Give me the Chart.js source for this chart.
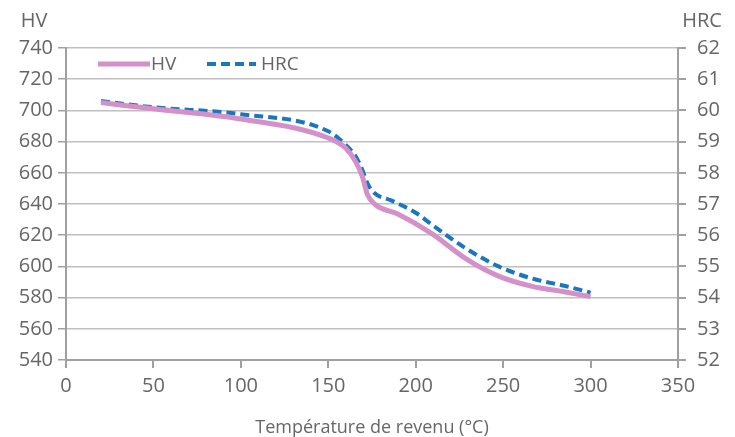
<!DOCTYPE html>
<html>
<head>
<meta charset="utf-8">
<script src="https://cdn.jsdelivr.net/npm/chart.js@4"></script>
<style>
  html, body { margin: 0; padding: 0; background: #fff; }
  #wrap { width: 735px; height: 437px; position: relative; }
</style>
</head>
<body>
<div id="wrap"><canvas id="c" width="735" height="437"></canvas></div>
<script>
// ---- data ----
const hvTemps   = [20, 50, 100, 150, 160, 165.7, 169.5, 172.4, 177, 190, 209, 228.6, 247.4, 266, 285.6, 300];
const hvValues  = [705, 701, 694.5, 682.3, 675.7, 667, 657.5, 646, 639.5, 633.5, 621.2, 605, 593.8, 587.4, 583.6, 580.6];
const hrcTemps  = [20, 50, 100, 150, 160, 165.7, 169.5, 172.4, 176.2, 186.6, 200, 209, 228.6, 247.4, 266, 285.6, 300];
const hrcValues = [60.3, 60.1, 59.88, 59.33, 58.89, 58.52, 58.09, 57.66, 57.36, 57.1, 56.72, 56.35, 55.58, 55.0, 54.62, 54.37, 54.16];
const seriesNames = ['HV', 'HRC'];
const leftAxisTitle = 'HV';
const rightAxisTitle = 'HRC';
const xAxisTitle = 'Température de revenu (°C)';

const FONT = "'Open Sans', 'Liberation Sans', sans-serif";
const TXT = '#666666';

const hvData = hvTemps.map((t, i) => ({ x: t, y: hvValues[i] }));
const hrcData = hrcTemps.map((t, i) => ({ x: t, y: hrcValues[i] }));

const extras = {
  id: 'extras',
  afterDraw(chart) {
    const ctx = chart.ctx;
    ctx.save();
    ctx.fillStyle = TXT;
    ctx.font = '20px ' + FONT;
    ctx.textBaseline = 'middle';
    ctx.textAlign = 'center';
    ctx.fillText(leftAxisTitle, 34, 21);
    ctx.fillText(rightAxisTitle, 702, 21);
    // legend
    const ly = 64;
    const ds = chart.data.datasets;
    ctx.lineCap = 'butt';
    ctx.strokeStyle = ds[0].borderColor;
    ctx.lineWidth = ds[0].borderWidth;
    ctx.beginPath(); ctx.moveTo(98, ly); ctx.lineTo(150, ly); ctx.stroke();
    ctx.textAlign = 'left';
    ctx.font = '19px ' + FONT;
    ctx.fillText(seriesNames[0], 151, ly + 1);
    ctx.strokeStyle = ds[1].borderColor;
    ctx.lineWidth = ds[1].borderWidth;
    ctx.setLineDash(ds[1].borderDash);
    ctx.beginPath(); ctx.moveTo(207, ly); ctx.lineTo(256, ly); ctx.stroke();
    ctx.setLineDash([]);
    ctx.fillText(seriesNames[1], 261, ly + 1);
    ctx.restore();
  }
};

new Chart(document.getElementById('c'), {
  type: 'line',
  data: {
    datasets: [
      {
        label: seriesNames[0], data: hvData, yAxisID: 'y',
        borderColor: '#d490c8', borderWidth: 5, pointRadius: 0,
        cubicInterpolationMode: 'monotone', fill: false
      },
      {
        label: seriesNames[1], data: hrcData, yAxisID: 'y2',
        borderColor: '#1a76bd', borderWidth: 4, borderDash: [9, 5], pointRadius: 0,
        cubicInterpolationMode: 'monotone', fill: false
      }
    ]
  },
  options: {
    responsive: false,
    animation: false,
    devicePixelRatio: 1,
    layout: { padding: { top: 48, left: 0, right: 0, bottom: 0 } },
    plugins: { legend: { display: false }, tooltip: { enabled: false } },
    scales: {
      x: {
        type: 'linear', min: 0, max: 350,
        ticks: { stepSize: 50, color: TXT, font: { family: FONT, size: 20 }, padding: 6, maxRotation: 0 },
        grid: { drawOnChartArea: false, tickLength: 8, tickColor: '#a0a0a0', lineWidth: 2 },
        border: { color: '#a0a0a0', width: 2 },
        title: { display: true, text: xAxisTitle, color: TXT, font: { family: FONT, size: 18 }, padding: { top: 14, bottom: -2 } },
        afterFit(s) { s.height = 77; }
      },
      y: {
        position: 'left', min: 540, max: 740,
        ticks: { stepSize: 20, color: TXT, font: { family: FONT, size: 20 }, padding: 5 },
        grid: { color: '#c0c0c0', lineWidth: 1.5, tickLength: 8, tickColor: '#a0a0a0' },
        border: { color: '#a0a0a0', width: 2 },
        afterFit(s) { s.width = 66; }
      },
      y2: {
        position: 'right', min: 52, max: 62,
        ticks: { stepSize: 1, color: TXT, font: { family: FONT, size: 20 }, padding: 11 },
        grid: { drawOnChartArea: false, tickLength: 8, tickColor: '#a0a0a0', lineWidth: 2 },
        border: { color: '#a0a0a0', width: 2 },
        afterFit(s) { s.width = 57; }
      }
    }
  },
  plugins: [extras]
});
</script>
</body>
</html>
